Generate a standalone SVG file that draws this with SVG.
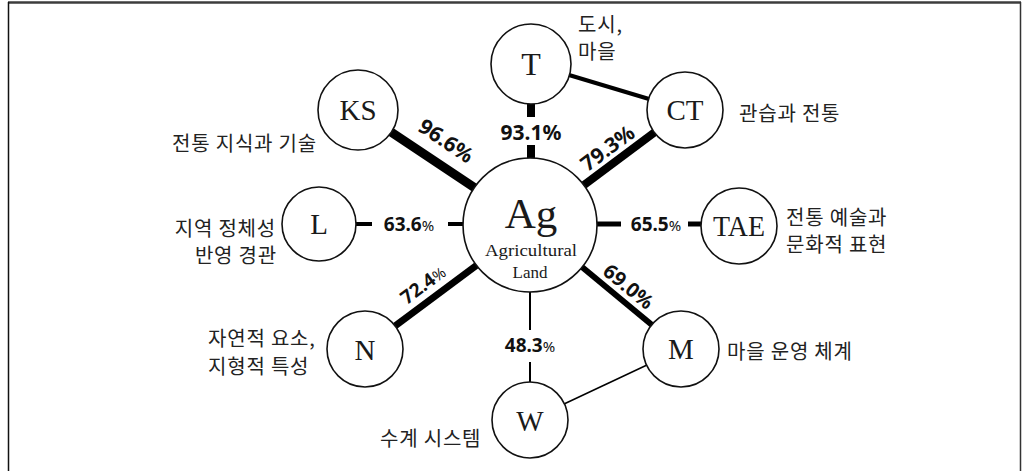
<svg xmlns="http://www.w3.org/2000/svg" width="1028" height="471" viewBox="0 0 1028 471">
<style>
.node{fill:#fff;stroke:#111;stroke-width:1.6}
.nl{font-family:"Liberation Serif",serif;fill:#1a1a1a;text-anchor:middle}
.kr{font-family:"Noto Sans CJK KR","Noto Sans",sans-serif;font-size:20px;letter-spacing:0.8px;fill:#222}
.pct{font-family:"Noto Sans","Liberation Sans",sans-serif;font-weight:bold;fill:#111;text-anchor:middle}
.sp{font-size:15px;font-weight:normal}
.e{stroke:#000;fill:none}
</style>
<rect width="1028" height="471" fill="#fff"/>
<g id="frame" fill="none">
<line x1="8" y1="2.5" x2="1021" y2="2.5" stroke="#3c3c3c" stroke-width="2.5"/>
<line x1="8.5" y1="2" x2="8.5" y2="471" stroke="#111" stroke-width="1.5"/>
<line x1="1020.5" y1="2" x2="1020.5" y2="471" stroke="#333" stroke-width="1.5"/>
</g>
<g id="connectors">
<line class="e" x1="531" y1="104" x2="531" y2="117" stroke-width="8"/>
<line class="e" x1="531" y1="145" x2="531" y2="159" stroke-width="8"/>
<line class="e" x1="391" y1="132" x2="475" y2="188" stroke-width="9"/>
<line class="e" x1="584" y1="185" x2="655" y2="132" stroke-width="8"/>
<line class="e" x1="569" y1="75" x2="649" y2="99" stroke-width="4"/>
<line class="e" x1="356" y1="224" x2="372" y2="224" stroke-width="4"/>
<line class="e" x1="448" y1="224" x2="464" y2="224" stroke-width="4"/>
<line class="e" x1="597" y1="224" x2="621" y2="224" stroke-width="5"/>
<line class="e" x1="688" y1="224" x2="702" y2="224" stroke-width="5"/>
<line class="e" x1="395" y1="326" x2="477" y2="265" stroke-width="7"/>
<line class="e" x1="582" y1="267" x2="652" y2="325" stroke-width="6"/>
<line class="e" x1="530" y1="292" x2="530" y2="330" stroke-width="2"/>
<line class="e" x1="530" y1="362" x2="530" y2="383" stroke-width="2"/>
<line class="e" x1="564" y1="404" x2="647" y2="365" stroke-width="1.5"/>
<text class="pct" x="531" y="140" font-size="21">93.1%</text>
<text class="pct" font-size="21" transform="translate(442,147) rotate(33.8)">96.6%</text>
<text class="pct" font-size="21" transform="translate(612,154) rotate(-36.6)">79.3%</text>
<text class="pct" x="409" y="231" font-size="19">63.6<tspan class="sp">%</tspan></text>
<text class="pct" x="656" y="231" font-size="19">65.5<tspan class="sp">%</tspan></text>
<text class="pct" font-size="19" transform="translate(427,290) rotate(-36.9)">72.4<tspan class="sp">%</tspan></text>
<text class="pct" font-size="20" transform="translate(624,292) rotate(39.4)">69.0%</text>
<text class="pct" x="530" y="352" font-size="19">48.3<tspan class="sp">%</tspan></text>
</g>
<g id="node-Ag">
<circle class="node" cx="530" cy="225" r="67"/>
<text class="nl" x="531" y="228" font-size="43">Ag</text>
<text class="nl" x="531" y="256" font-size="17" textLength="92" lengthAdjust="spacingAndGlyphs">Agricultural</text>
<text class="nl" x="530" y="278" font-size="17">Land</text>
</g>
<g id="node-T">
<circle class="node" cx="531" cy="64" r="40"/>
<text class="nl" x="531" y="75" font-size="32">T</text>
<text class="kr" x="578" y="32">도시,</text>
<text class="kr" x="578" y="59">마을</text>
</g>
<g id="node-KS">
<circle class="node" cx="358" cy="110" r="40"/>
<text class="nl" x="358" y="120" font-size="29">KS</text>
<text class="kr" x="172" y="151">전통 지식과 기술</text>
</g>
<g id="node-CT">
<circle class="node" cx="685" cy="110" r="38"/>
<text class="nl" x="685" y="120" font-size="29">CT</text>
<text class="kr" x="739" y="121">관습과 전통</text>
</g>
<g id="node-L">
<circle class="node" cx="319" cy="224" r="37"/>
<text class="nl" x="319" y="234" font-size="29">L</text>
<text class="kr" x="276" y="236" text-anchor="end">지역 정체성</text>
<text class="kr" x="277" y="263" text-anchor="end">반영 경관</text>
</g>
<g id="node-TAE">
<circle class="node" cx="739" cy="226" r="38"/>
<text class="nl" x="739" y="236" font-size="29" textLength="52" lengthAdjust="spacingAndGlyphs">TAE</text>
<text class="kr" x="786" y="225">전통 예술과</text>
<text class="kr" x="786" y="252">문화적 표현</text>
</g>
<g id="node-N">
<circle class="node" cx="365" cy="349" r="38"/>
<text class="nl" x="365" y="360" font-size="29">N</text>
<text class="kr" x="208" y="346">자연적 요소,</text>
<text class="kr" x="208" y="374">지형적 특성</text>
</g>
<g id="node-M">
<circle class="node" cx="681" cy="349" r="38"/>
<text class="nl" x="681" y="359" font-size="29">M</text>
<text class="kr" x="727" y="359">마을 운영 체계</text>
</g>
<g id="node-W">
<circle class="node" cx="530" cy="420" r="38"/>
<text class="nl" x="530" y="431" font-size="29">W</text>
<text class="kr" x="380" y="446">수계 시스템</text>
</g>
</svg>
